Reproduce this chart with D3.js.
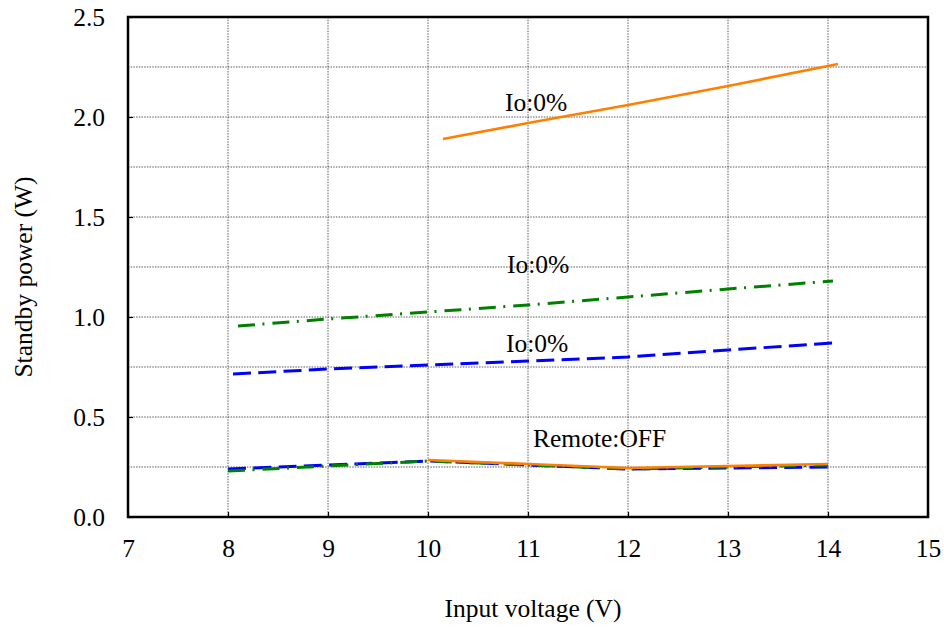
<!DOCTYPE html>
<html><head><meta charset="utf-8">
<script src="https://cdn.jsdelivr.net/npm/d3@7"></script>
<style>body{margin:0;background:#fff}svg{display:block}text{font-family:"Liberation Serif","Times New Roman",serif !important;fill:#000}</style>
</head><body><svg id="c" width="944" height="627"></svg>
<script>
const xTicks = [7,8,9,10,11,12,13,14,15];
const yTicks = [0,0.5,1.0,1.5,2.0,2.5];
const xTitle = "Input voltage (V)";
const yTitle = "Standby power (W)";

const orangeIoX = [10.15,11,12,13,14.1];
const orangeIoY = [1.89,1.97,2.06,2.155,2.265];
const greenIoX = [8.1,9,10,11,12,13,14.05];
const greenIoY = [0.955,0.99,1.025,1.06,1.10,1.14,1.18];
const blueIoX = [8.05,9,10,11,12,13,14.05];
const blueIoY = [0.715,0.74,0.76,0.78,0.80,0.835,0.87];
const blueOffX = [8,9,10,11,12,13,14];
const blueOffY = [0.24,0.26,0.28,0.26,0.24,0.245,0.25];
const greenOffX = [8,9,10,11,12,13,14];
const greenOffY = [0.23,0.255,0.28,0.26,0.24,0.25,0.26];
const orangeOffX = [10,11,12,13,14];
const orangeOffY = [0.285,0.265,0.245,0.255,0.265];

const labels = [
  {t:"Io:0%", x:10.77, y:2.03},
  {t:"Io:0%", x:10.79, y:1.22},
  {t:"Io:0%", x:10.78, y:0.825},
  {t:"Remote:OFF", x:11.05, y:0.35}
];

const FS = 25.5;
const svg = d3.select("#c");
const L=128,R=928,T=17,B=517;
const x = d3.scaleLinear().domain([7,15]).range([L,R]);
const y = d3.scaleLinear().domain([0,2.5]).range([B,T]);

// grid
const g = svg.append("g");
g.selectAll(".vg").data(xTicks.slice(1,-1)).join("line")
  .attr("x1",d=>x(d)).attr("x2",d=>x(d)).attr("y1",T).attr("y2",B)
  .attr("stroke","#333").attr("stroke-width",0.8).attr("stroke-dasharray","1.5,1.2");
g.selectAll(".hg").data(d3.range(1,10).map(i=>i*0.25)).join("line")
  .attr("x1",L).attr("x2",R).attr("y1",d=>y(d)).attr("y2",d=>y(d))
  .attr("stroke","#333").attr("stroke-width",0.8).attr("stroke-dasharray","1.5,1.2");

// axes
const xa = svg.append("g").attr("transform",`translate(0,${B})`)
  .call(d3.axisBottom(x).tickValues(xTicks).tickSize(-5).tickPadding(22).tickFormat(d3.format("d")));
const ya = svg.append("g").attr("transform",`translate(${L},0)`)
  .call(d3.axisLeft(y).tickValues(yTicks).tickSize(-5).tickPadding(23).tickFormat(d3.format(".1f")));
[xa,ya].forEach(a=>{a.attr("font-family","Liberation Serif").attr("font-size",FS);
  a.select(".domain").remove();a.selectAll("line").attr("stroke","#000").attr("stroke-width",1.2);
  a.selectAll("text").attr("fill","#000");});

// frame
svg.append("rect").attr("x",L).attr("y",T).attr("width",R-L).attr("height",B-T)
  .attr("fill","none").attr("stroke","#000").attr("stroke-width",2.5);

// series
const line = (xs,ys)=>d3.line().x((d,i)=>x(xs[i])).y(d=>y(d))(ys);
const series = [
  {xs:blueOffX,ys:blueOffY,c:"#0000ff",w:3,da:"18,7.3"},
  {xs:greenOffX,ys:greenOffY,c:"#008000",w:3,da:"17,7.5,2,8"},
  {xs:orangeOffX,ys:orangeOffY,c:"#ff8000",w:2.7,da:null},
  {xs:blueIoX,ys:blueIoY,c:"#0000ff",w:3,da:"18,7.3"},
  {xs:greenIoX,ys:greenIoY,c:"#008000",w:3,da:"17,7.5,2,8"},
  {xs:orangeIoX,ys:orangeIoY,c:"#ff8000",w:2.7,da:null}
];
series.forEach(s=>{
  svg.append("path").attr("d",line(s.xs,s.ys)).attr("fill","none")
    .attr("stroke",s.c).attr("stroke-width",s.w).attr("stroke-dasharray",s.da);
});

svg.selectAll(".lab").data(labels).join("text")
  .attr("x",d=>x(d.x)).attr("y",d=>y(d.y)).attr("font-size",FS).text(d=>d.t);

svg.append("text").attr("x",533).attr("y",617).attr("text-anchor","middle").attr("font-size",FS).text(xTitle);
svg.append("text").attr("transform",`translate(32,277) rotate(-90)`).attr("text-anchor","middle").attr("font-size",FS).text(yTitle);
</script></body></html>
